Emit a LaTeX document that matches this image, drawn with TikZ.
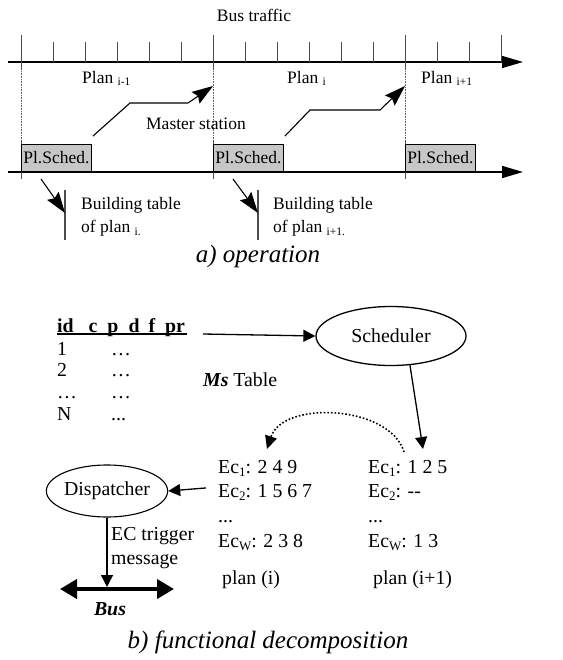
\documentclass[tikz,border=0pt]{standalone}
\usepackage{fontspec}
\setmainfont{Liberation Serif}
\usetikzlibrary{arrows.meta,shapes.geometric}
\newcommand{\sba}[1]{\raisebox{-2pt}{\fontsize{11.5}{12}\selectfont #1}}
\newcommand{\sbb}[1]{\raisebox{-3pt}{\fontsize{13}{14}\selectfont #1}}
\begin{document}
\begin{tikzpicture}[x=1pt,y=-1pt,
  fa/.style={font=\fontsize{17.5}{20}\selectfont, inner sep=0pt},
  fb/.style={font=\fontsize{19.8}{23}\selectfont, inner sep=0pt},
  capt/.style={font=\fontsize{25}{28}\selectfont\itshape, inner sep=0pt},
  axis/.style={line width=1.4pt, -{Triangle[length=21pt,width=12pt]}},
  tk/.style={line width=0.9pt, draw=black!70},
  vdot/.style={densely dotted, line width=0.6pt, draw=black!60},
  schedbox/.style={draw, line width=0.9pt, fill=black!22, minimum width=70pt, minimum height=27pt, inner sep=0pt, anchor=south west, font=\fontsize{17.5}{20}\selectfont},
  bigarr/.style={line width=1.1pt, -{Stealth[length=21pt,width=14pt,inset=3pt]}},
  arr/.style={line width=1.3pt, -{Triangle[length=12pt,width=12pt]}},
  dotarr/.style={dotted, line width=1.6pt, -{Triangle[length=13pt,width=12pt]}},
]
\useasboundingbox (0,0) rectangle (562,660);

% ---------- a) operation ----------
\node[fa, anchor=base] (bt) at (254,22) {Bus traffic};
\coordinate (ax1s) at (8,62);
\coordinate (ax1e) at (523,62);
\draw[axis] (ax1s) -- (ax1e);
\foreach \x in {53,85,117,149,181,245,277,309,341,373,437,469}
  \draw[tk] (\x,42) -- (\x,62);
\draw[tk] (501,35) -- (501,62);
\foreach \x in {21,213,405} {
  \draw[tk] (\x,35) -- (\x,70);
  \draw[vdot] (\x,71) -- (\x,145);
}
\node[fa, anchor=base west] (p1) at (82,84) {Plan \sba{i-1}};
\node[fa, anchor=base west] (p2) at (287,84) {Plan \sba{i}};
\node[fa, anchor=base west] (p3) at (421,84) {Plan \sba{i+1}};

\coordinate (ax2s) at (8,172);
\coordinate (ax2e) at (523,172);
\draw[axis] (ax2s) -- (ax2e);
\foreach \x in {21,213,405}
  \draw[tk] (\x,140) -- (\x,179);
\node[schedbox] (ps1) at (21,172) {Pl.Sched.};
\node[schedbox] (ps2) at (213,172) {Pl.Sched.};
\node[schedbox] (ps3) at (405,172) {Pl.Sched.};

\coordinate (t1) at (213,86);
\coordinate (t2) at (405,86);
\draw[bigarr] ([shift={(1pt,8pt)}]ps1.north east) -- (130,103) -- (188,103) -- (t1);
\draw[bigarr] ([shift={(1pt,8pt)}]ps2.north east) -- (310,110) -- (380,110) -- (t2);
\node[fa, anchor=base] (ms) at (196,130) {Master station};

\coordinate (bar1t) at (65,190);
\coordinate (bar1b) at (65,240);
\coordinate (bar2t) at (258,190);
\coordinate (bar2b) at (258,240);
\draw[tk, line width=1.1pt] (bar1t) -- (bar1b);
\draw[tk, line width=1.1pt] (bar2t) -- (bar2b);
\coordinate (b1s) at (41,179);
\coordinate (b2s) at (233,179);
\draw[bigarr] (b1s) -- (65,213);
\draw[bigarr] (b2s) -- (258,213);
\node[fa, anchor=base west] (bt1a) at (81,209) {Building table};
\node[fa, anchor=base west] (bt1b) at (81,233) {of plan \sba{i.}};
\node[fa, anchor=base west] (bt2a) at (273,209) {Building table};
\node[fa, anchor=base west] (bt2b) at (273,233) {of plan \sba{i+1.}};
\node[capt, anchor=base] (ca) at (258,262) {a) operation};

% ---------- b) functional decomposition ----------
\node[fb, anchor=base west] (hdr) at (57,332) {\bfseries id\hspace{15pt}c\hspace{10pt}p\hspace{10pt}d\hspace{9pt}f\hspace{10pt}pr};
\draw[line width=1.5pt] (57,334) -- (187,334);
\node[fb, anchor=base west] (r1a) at (57,355) {1};
\node[fb, anchor=base west] (r1b) at (111,355) {…};
\node[fb, anchor=base west] (r2a) at (57,376) {2};
\node[fb, anchor=base west] (r2b) at (111,376) {…};
\node[fb, anchor=base west] (r3a) at (57,398) {…};
\node[fb, anchor=base west] (r3b) at (111,398) {…};
\node[fb, anchor=base west] (r4a) at (57,420) {N};
\node[fb, anchor=base west] (r4b) at (111,420) {...};
\node[fb, anchor=base west] (mst) at (203,386) {\textbf{\textit{Ms}} Table};

\node[draw, ellipse, line width=1.3pt, minimum width=150pt, minimum height=59pt, fb] (sch) at (391,336) {Scheduler};
\coordinate (tbl) at (203,334);
\draw[arr] (tbl) -- (sch.west);

\node[fb, anchor=base west] (l1) at (218,473) {Ec\sbb{1}: 2 4 9};
\node[fb, anchor=base west] (l2) at (218,497) {Ec\sbb{2}: 1 5 6 7};
\node[fb, anchor=base west] (l3) at (218,522) {...};
\node[fb, anchor=base west] (l4) at (218,547) {Ec\sbb{W}: 2 3 8};
\node[fb, anchor=base west] (l5) at (222,584) {plan (i)};
\node[fb, anchor=base west] (q1) at (368,473) {Ec\sbb{1}: 1 2 5};
\node[fb, anchor=base west] (q2) at (368,497) {Ec\sbb{2}: -{}-};
\node[fb, anchor=base west] (q3) at (368,522) {...};
\node[fb, anchor=base west] (q4) at (368,547) {Ec\sbb{W}: 1 3};
\node[fb, anchor=base west] (q5) at (373,584) {plan (i+1)};

\coordinate (q1top) at (423,449);
\draw[arr] (sch.-57) -- (q1top);
\coordinate (dstart) at (404,452);
\coordinate (dend) at (267,449);
\draw[dotarr] (dstart) .. controls (390,405) and (283,400) .. (dend);

\node[draw, ellipse, line width=1.1pt, minimum width=115pt, minimum height=52pt, fb] (dis) at (107,491) {Dispatcher};
\draw[arr] ([xshift=-12pt,yshift=4pt]l2.west) -- (dis.east);

\coordinate (busl) at (60,589);
\coordinate (busr) at (174,589);
\coordinate (busm) at (107,587);
\draw[line width=4pt, {Triangle[length=17pt,width=19pt]}-{Triangle[length=17pt,width=19pt]}] (busl) -- (busr);
\draw[arr] (dis.south) -- (busm);
\node[fb, anchor=base] (busn) at (110,615) {\textbf{\textit{Bus}}};
\node[fb, anchor=base west] (ect1) at (111,540) {EC trigger};
\node[fb, anchor=base west] (ect2) at (111,564) {message};
\node[capt, anchor=base] (cb) at (268,648) {b) functional decomposition};
\end{tikzpicture}
\end{document}
